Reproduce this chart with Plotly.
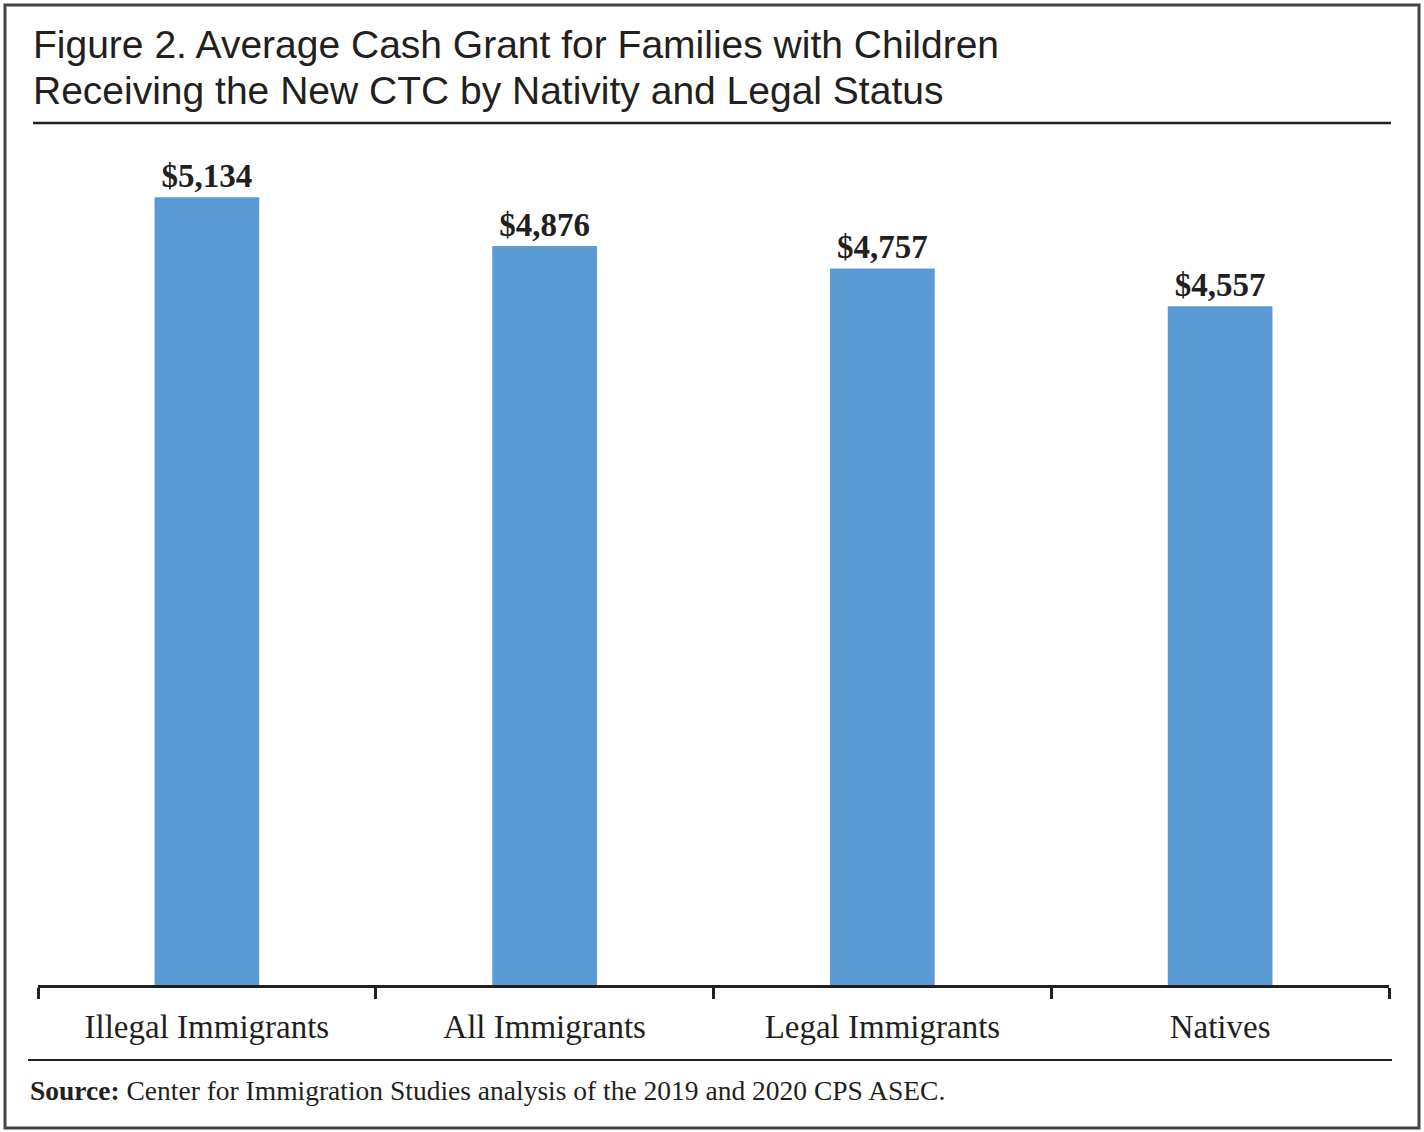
import plotly.graph_objects as go

categories = ["Illegal Immigrants", "All Immigrants", "Legal Immigrants", "Natives"]
values = [5134, 4876, 4757, 4557]

W, H = 1424, 1132
L, R, T, B = 38, 1389, 140, 985  # plot area in pixels

def px(x):
    return (x - L) / (R - L)

def py(y):
    return (B - y) / (B - T)

DARK = "#231f20"
BAR = "#5b9bd5"

fig = go.Figure(go.Bar(
    x=categories, y=values,
    marker=dict(color=BAR, line=dict(width=0)),
    width=0.31,
    texttemplate="$%{y:,}",
    textposition="outside",
    textfont=dict(family="Liberation Serif", size=33, color=DARK, weight="bold"),
    cliponaxis=False,
))

fig.update_layout(
    width=W, height=H,
    margin=dict(l=L, r=W - R, t=T, b=H - B),
    paper_bgcolor="white", plot_bgcolor="white",
    showlegend=False,
)
fig.update_xaxes(
    range=[-0.5, 3.5],
    showline=True, linecolor=DARK, linewidth=2.5,
    ticks="outside", tickson="boundaries", ticklen=11, tickwidth=2.5, tickcolor=DARK,
    tickfont=dict(family="Liberation Serif", size=33, color=DARK),
    ticklabelstandoff=11,
    showgrid=False,
)
fig.update_yaxes(range=[963, 5437], visible=False, showgrid=False)

shapes = [
    dict(type="rect", xref="paper", yref="paper", x0=px(5), x1=px(1419), y0=py(5), y1=py(1128),
         line=dict(color="#444444", width=3)),
    dict(type="line", xref="paper", yref="paper", x0=px(33), x1=px(1391), y0=py(123), y1=py(123),
         line=dict(color=DARK, width=2.5)),
    dict(type="line", xref="paper", yref="paper", x0=px(28), x1=px(1392), y0=py(1060), y1=py(1060),
         line=dict(color=DARK, width=2)),
]
fig.update_layout(shapes=shapes)

title_lines = ["Figure 2. Average Cash Grant for Families with Children",
               "Receiving the New CTC by Nativity and Legal Status"]
for i, line in enumerate(title_lines):
    fig.add_annotation(
        xref="paper", yref="paper", x=px(31), y=py(21 + 46 * i), xanchor="left", yanchor="top",
        text=line, showarrow=False, align="left",
        font=dict(family="Liberation Sans", size=39, color=DARK),
    )
fig.add_annotation(
    xref="paper", yref="paper", x=px(28), y=py(1090), xanchor="left", yanchor="middle",
    text="<b>Source:</b> Center for Immigration Studies analysis of the 2019 and 2020 CPS ASEC.",
    showarrow=False, align="left",
    font=dict(family="Liberation Serif", size=27.5, color=DARK),
)

fig.write_html(
    "out.html",
    config={"displayModeBar": False},
    post_script="document.body.style.margin='0';document.body.style.overflow='hidden';",
)
